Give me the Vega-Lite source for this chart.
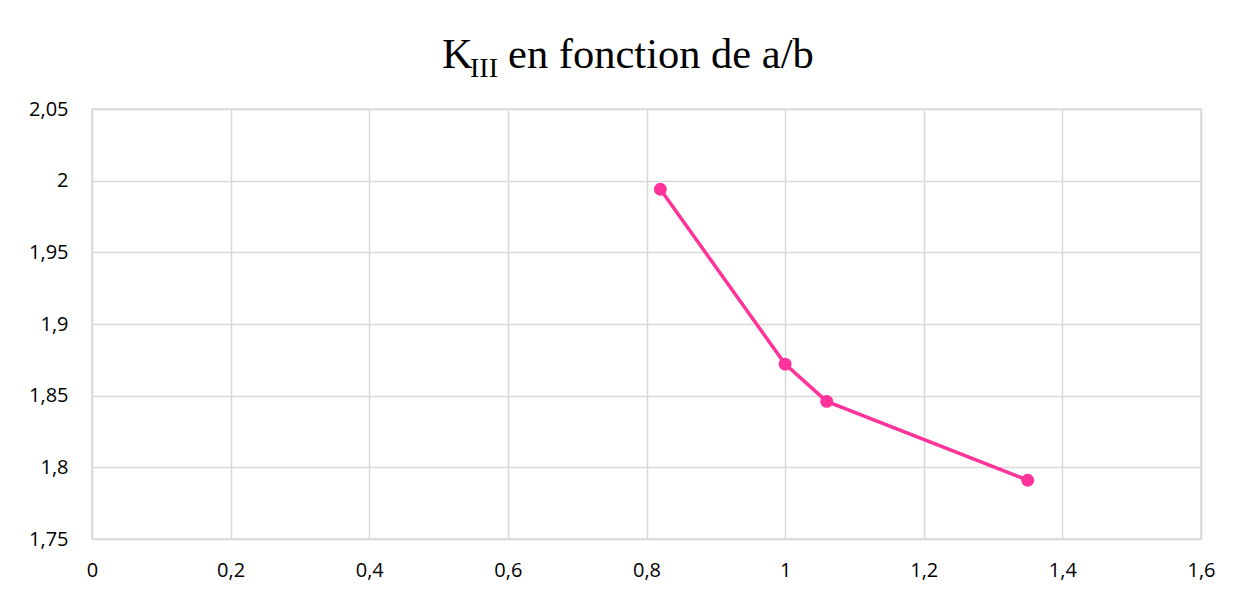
{
  "$schema": "https://vega.github.io/schema/vega-lite/v6.json",
  "width": 1109,
  "height": 430,
  "autosize": {"type": "none"},
  "padding": {"left": 92, "top": 109, "right": 43, "bottom": 60},
  "background": "white",
  "title": {
    "text": "K\u2002\u2004en fonction de a/b",
    "subtitle": "\u200b\u2003III",
    "anchor": "start",
    "frame": "group",
    "dx": 350,
    "font": "Liberation Serif",
    "fontSize": 42.5,
    "fontWeight": "normal",
    "color": "#000000",
    "subtitleFont": "Liberation Serif",
    "subtitleFontSize": 28,
    "subtitleColor": "#000000",
    "subtitlePadding": -21,
    "offset": 16
  },
  "config": {
    "locale": {
      "number": {"decimal": ",", "thousands": " ", "grouping": [3], "currency": ["", " €"]}
    },
    "view": {"stroke": "#d9d9d9", "strokeWidth": 1.5}
  },
  "data": {
    "values": [
      {"rapport_ab": 0.82, "K_III": 1.994},
      {"rapport_ab": 1.0, "K_III": 1.872},
      {"rapport_ab": 1.06, "K_III": 1.846},
      {"rapport_ab": 1.35, "K_III": 1.791}
    ]
  },
  "encoding": {
    "x": {
      "field": "rapport_ab",
      "type": "quantitative",
      "scale": {"domain": [0, 1.6], "nice": false},
      "axis": {
        "title": null,
        "values": [0, 0.2, 0.4, 0.6, 0.8, 1, 1.2, 1.4, 1.6],
        "format": ".1~f",
        "domain": false,
        "ticks": false,
        "labelFlush": false,
        "labelPadding": 21,
        "labelFont": "Open Sans",
        "labelFontSize": 20,
        "labelColor": "#000000",
        "gridColor": "#d9d9d9",
        "gridWidth": 1.5
      }
    },
    "y": {
      "field": "K_III",
      "type": "quantitative",
      "scale": {"domain": [1.75, 2.05], "nice": false, "zero": false},
      "axis": {
        "title": null,
        "values": [1.75, 1.8, 1.85, 1.9, 1.95, 2, 2.05],
        "format": ".2~f",
        "domain": false,
        "ticks": false,
        "labelFlush": false,
        "labelPadding": 24,
        "labelFont": "Open Sans",
        "labelFontSize": 20,
        "labelColor": "#000000",
        "gridColor": "#d9d9d9",
        "gridWidth": 1.5
      }
    }
  },
  "layer": [
    {"mark": {"type": "line", "color": "#ff3399", "strokeWidth": 3.5}},
    {"mark": {"type": "point", "filled": true, "size": 165, "color": "#ff3399", "opacity": 1}}
  ]
}
